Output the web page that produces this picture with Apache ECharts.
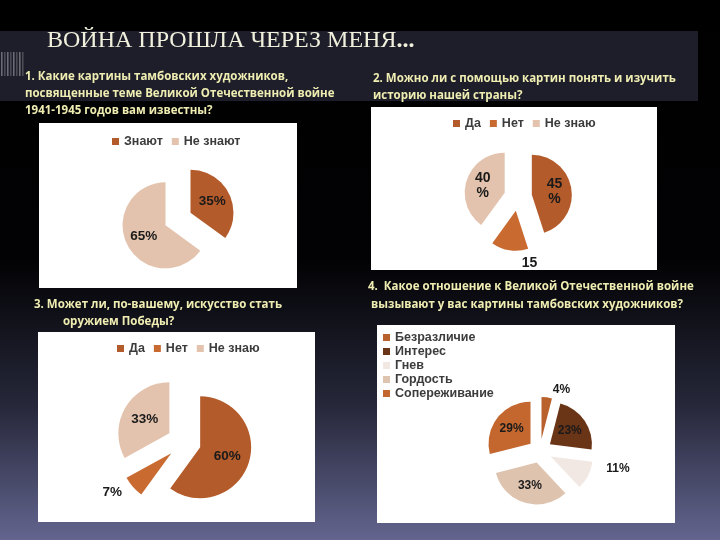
<!DOCTYPE html>
<html><head><meta charset="utf-8">
<script src="https://cdn.jsdelivr.net/npm/echarts/dist/echarts.min.js"></script>
<style>html,body{margin:0;padding:0;background:#000}#c{width:720px;height:540px}</style>
</head><body><div id="c"></div>
<script>
// ---- text ----
const titleMain = 'ВОЙНА ПРОШЛА ЧЕРЕЗ МЕНЯ';
const titleTail = '...';
const q1Lines = ['1. Какие картины тамбовских художников,', 'посвященные теме Великой Отечественной войне', '1941-1945 годов вам известны?'];
const q2Lines = ['2. Можно ли с помощью картин понять и изучить', 'историю нашей страны?'];
const q3Lines = ['3. Может ли, по-вашему, искусство стать', 'оружием Победы?'];
const q4Lines = ['4.  Какое отношение к Великой Отечественной войне', 'вызывают у вас картины тамбовских художников?'];

// ---- data ----
const c1Names = ['Знают', 'Не знают'];
const c1Values = [35, 65];
const c2Names = ['Да', 'Нет', 'Не знаю'];
const c2Values = [45, 15, 40];
const c3Names = ['Да', 'Нет', 'Не знаю'];
const c3Values = [60, 7, 33];
const c4Names = ['Безразличие', 'Интерес', 'Гнев', 'Гордость', 'Сопереживание'];
const c4Values = [4, 23, 11, 33, 29];

// ---- styles ----
const c1Colors = ['#b45b2b', '#e3c3ad'];
const c2Colors = ['#b45b2b', '#c96a31', '#e3c3ad'];
const c3Colors = ['#b45b2b', '#c96a31', '#e3c3ad'];
const c4Colors = ['#b8612c', '#6a3417', '#f2e8e3', '#dec3af', '#c4672f'];
const c2Outside = ['Нет'];
const c3Outside = ['Нет'];
const c4Outside = ['Безразличие', 'Гнев'];

const qColor = '#efedb2';
const qFont = 'bold 11.5px "Open Sans", sans-serif';
const labelFamily = '"Liberation Sans", Arial, sans-serif';

function buildData(names, values, colors, outside, fmtInside, fmtOutside) {
  return names.map((n, i) => {
    const o = { name: n, value: values[i], selected: true, itemStyle: { color: colors[i] },
      label: { formatter: fmtInside } };
    if (outside.indexOf(n) >= 0) {
      o.label = { position: 'outside', formatter: fmtOutside };
      o.labelLine = { show: false, length: 8, length2: 0 };
    }
    return o;
  });
}

function pieSeries(center, radius, offset, fontSize, lineHeight, data, layout) {
  return {
    type: 'pie',
    center: center,
    radius: radius,
    startAngle: 90,
    clockwise: true,
    selectedMode: 'multiple',
    selectedOffset: offset,
    avoidLabelOverlap: false,
    silent: true,
    animation: false,
    label: {
      show: true, position: 'inside', color: '#1a1a1a', fontWeight: 'bold',
      fontSize: fontSize, lineHeight: lineHeight, fontFamily: labelFamily, formatter: '{c}%'
    },
    labelLine: { show: false },
    labelLayout: layout,
    select: { itemStyle: { borderWidth: 0 } },
    emphasis: { disabled: true },
    data: data
  };
}

function textLines(lines, x, y0, step) {
  return lines.map((t, i) => ({
    type: 'text', x: x, y: y0 + i * step,
    style: { text: t, fill: qColor, font: qFont, verticalAlign: 'middle' }
  }));
}

const stripes = [];
for (let i = 0; i < 8; i++) {
  stripes.push({ type: 'rect', shape: { x: 1 + i * 3, y: 52, width: 1.6, height: 24 }, style: { fill: i % 2 ? '#4a4b55' : '#6a6b75' } });
}

const legendText = { color: '#3c3c3c', fontWeight: 'bold', fontSize: 12.5, fontFamily: labelFamily };
function legend(names, left, top, orient, gap) {
  return {
    data: names, left: left, top: top, orient: orient || 'horizontal', icon: 'rect',
    itemWidth: 7, itemHeight: 7, itemGap: gap, padding: 0, selectedMode: false,
    textStyle: legendText
  };
}

const chart = echarts.init(document.getElementById('c'), null, { renderer: 'canvas' });
chart.setOption({
  animation: false,
  graphic: {
    elements: [
      { type: 'rect', shape: { x: 0, y: 0, width: 720, height: 540 },
        style: { fill: { type: 'linear', x: 0, y: 0, x2: 0, y2: 1, colorStops: [
          { offset: 0, color: '#000000' }, { offset: 0.48, color: '#020204' },
          { offset: 0.75, color: '#262739' }, { offset: 1, color: '#63658f' }] } } },
      { type: 'rect', shape: { x: 0, y: 31, width: 698, height: 70 }, style: { fill: '#1d1e29' } },
      ...stripes,
      { type: 'text', x: 47, y: 41, style: {
          text: '{a|' + titleMain + '}{b|' + titleTail + '}', verticalAlign: 'middle',
          rich: {
            a: { fill: '#f1f0dc', fontFamily: '"Liberation Serif", "Times New Roman", serif', fontSize: 24 },
            b: { fill: '#f1f0dc', fontFamily: '"Liberation Serif", "Times New Roman", serif', fontSize: 24, fontWeight: 'bold' }
          } } },
      ...textLines(q1Lines, 25, 77, 17),
      ...textLines(q2Lines, 373, 79, 17),
      ...textLines([q3Lines[0]], 34, 305, 17),
      ...textLines([q3Lines[1]], 63, 322, 17),
      ...textLines([q4Lines[0]], 368, 287, 17),
      ...textLines([q4Lines[1]], 371, 305, 17),
      { type: 'rect', shape: { x: 39, y: 123, width: 258, height: 165 }, style: { fill: '#ffffff' } },
      { type: 'rect', shape: { x: 371, y: 107, width: 286, height: 163 }, style: { fill: '#ffffff' } },
      { type: 'rect', shape: { x: 38, y: 332, width: 277, height: 190 }, style: { fill: '#ffffff' } },
      { type: 'rect', shape: { x: 377, y: 325, width: 298, height: 198 }, style: { fill: '#ffffff' } }
    ]
  },
  legend: [
    legend(c1Names, 112, 135, 'horizontal', 9),
    legend(['Да', 'Нет', 'Не знаю'], 453, 117, 'horizontal', 9),
    legend(['Да', 'Нет', 'Не знаю'], 117, 342, 'horizontal', 9),
    legend(c4Names, 383, 331, 'vertical', 1)
  ],
  series: [
    pieSeries([178, 219], 43, 14, 13.5, 15,
      buildData(c1Names, c1Values, c1Colors, [], '{c}%', '{c}%')),
    pieSeries([518, 197], 40, 14, 14, 15,
      buildData(c2Names, c2Values, c2Colors, c2Outside, '{c}\n%', '{c}'),
      function (p) { return p.dataIndex === 1 ? { dx: 34, dy: 5 } : {}; }),
    pieSeries([184, 442], 51, 17, 13.5, 15,
      buildData(c3Names, c3Values, c3Colors, c3Outside, '{c}%', '{c}%')),
    pieSeries([540, 451], 42, 12, 12, 14,
      buildData(c4Names, c4Values, c4Colors, c4Outside, '{c}%', '{c}%'),
      function (p) { return p.dataIndex === 2 ? { dx: 6, dy: -10 } : {}; })
  ]
});
</script>
</body></html>
